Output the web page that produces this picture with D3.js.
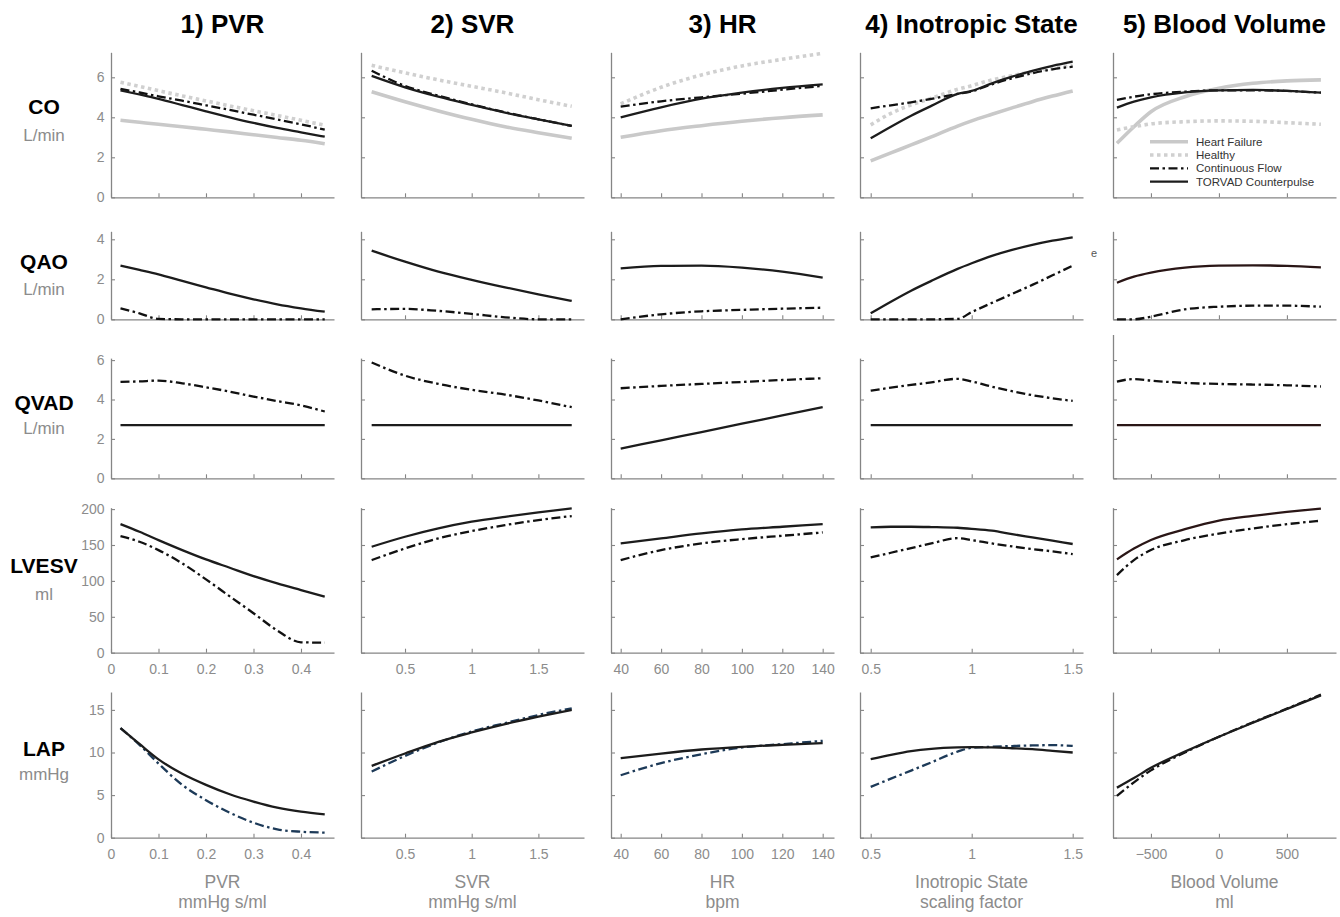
<!DOCTYPE html>
<html>
<head>
<meta charset="utf-8">
<script src="https://cdn.jsdelivr.net/npm/d3@7"></script>
<style>
  body { margin: 0; background: #fff; }
  svg { display: block; }
</style>
</head>
<body>
<svg id="chart" width="1340" height="917"></svg>
<script>
// ---- parameter sweeps, one per column ----
const xPVR = [0.02, 0.06, 0.1, 0.15, 0.2, 0.25, 0.3, 0.35, 0.4, 0.45];
const xSVR = [0.25, 0.5, 0.75, 1, 1.25, 1.5, 1.75];
const xHR  = [40, 60, 80, 100, 120, 140];
const xINO = [0.5, 0.6, 0.7, 0.8, 0.93, 1.0, 1.1, 1.2, 1.3, 1.4, 1.5];
const xBV  = [-750, -625, -500, -250, 0, 250, 500, 750];

const colTitles = ["1) PVR", "2) SVR", "3) HR", "4) Inotropic State", "5) Blood Volume"];
const colVar    = ["PVR", "SVR", "HR", "Inotropic State", "Blood Volume"];
const colUnit   = ["mmHg s/ml", "mmHg s/ml", "bpm", "scaling factor", "ml"];
const xTicks = [[0, 0.1, 0.2, 0.3, 0.4], [0.5, 1, 1.5], [40, 60, 80, 100, 120, 140], [0.5, 1, 1.5], [-500, 0, 500]];

const rowNames = ["CO", "QAO", "QVAD", "LVESV", "LAP"];
const rowUnits = ["L/min", "L/min", "L/min", "ml", "mmHg"];
const yTicks = [[0, 2, 4, 6], [0, 2, 4], [0, 2, 4, 6], [0, 50, 100, 150, 200], [0, 5, 10, 15]];

const seriesNames = ["Heart Failure", "Healthy", "Continuous Flow", "TORVAD Counterpulse"];

// ---- CO (L/min) ----
const coHF = [
  [3.85, 3.75, 3.65, 3.53, 3.4, 3.27, 3.13, 2.99, 2.85, 2.68],
  [5.28, 4.78, 4.32, 3.9, 3.53, 3.23, 2.95],
  [3.0, 3.33, 3.58, 3.8, 3.98, 4.12],
  [1.82, 2.22, 2.62, 3.02, 3.56, 3.82, 4.15, 4.47, 4.78, 5.06, 5.32],
  [2.7, 3.53, 4.28, 5.03, 5.45, 5.7, 5.82, 5.87]
];
const coHealthy = [
  [5.75, 5.54, 5.33, 5.07, 4.82, 4.57, 4.33, 4.09, 3.85, 3.6],
  [6.6, 6.22, 5.87, 5.55, 5.23, 4.88, 4.55],
  [4.67, 5.5, 6.12, 6.57, 6.9, 7.2],
  [3.62, 4.2, 4.62, 4.95, 5.4, 5.58, 5.87, 6.08, 6.28, 6.45, 6.6],
  [3.37, 3.53, 3.67, 3.78, 3.82, 3.8, 3.73, 3.65]
];
const coCF = [
  [5.42, 5.24, 5.05, 4.83, 4.6, 4.37, 4.13, 3.89, 3.65, 3.38],
  [6.33, 5.57, 5.08, 4.65, 4.25, 3.9, 3.57],
  [4.53, 4.8, 5.0, 5.18, 5.38, 5.57],
  [4.45, 4.6, 4.75, 4.92, 5.17, 5.3, 5.65, 5.95, 6.2, 6.4, 6.53],
  [4.87, 5.03, 5.15, 5.28, 5.35, 5.35, 5.32, 5.23]
];
const coTV = [
  [5.35, 5.14, 4.92, 4.61, 4.3, 4.0, 3.72, 3.47, 3.25, 3.03],
  [6.07, 5.5, 5.03, 4.62, 4.23, 3.9, 3.57],
  [4.0, 4.5, 4.93, 5.23, 5.47, 5.65],
  [2.95, 3.53, 4.08, 4.57, 5.17, 5.32, 5.7, 6.03, 6.32, 6.57, 6.78],
  [4.48, 4.78, 5.0, 5.25, 5.35, 5.37, 5.32, 5.23]
];

// ---- QAO (L/min) ----
const qaoCF = [
  [0.55, 0.3, 0.02, 0, 0, 0, 0, 0, 0, 0],
  [0.5, 0.52, 0.42, 0.27, 0.1, 0, 0],
  [0, 0.25, 0.4, 0.47, 0.53, 0.58],
  [0, 0, 0, 0, 0.02, 0.36, 0.82, 1.27, 1.72, 2.2, 2.68],
  [0, 0, 0.13, 0.5, 0.63, 0.68, 0.68, 0.63]
];
const qaoTV = [
  [2.68, 2.47, 2.25, 1.92, 1.6, 1.28, 1.0, 0.75, 0.55, 0.38],
  [3.43, 2.88, 2.38, 1.97, 1.6, 1.25, 0.92],
  [2.55, 2.67, 2.68, 2.58, 2.38, 2.08],
  [0.3, 0.88, 1.43, 1.92, 2.52, 2.8, 3.17, 3.47, 3.72, 3.93, 4.1],
  [1.83, 2.13, 2.33, 2.58, 2.68, 2.7, 2.67, 2.6]
];

// ---- QVAD (L/min) ----
const qvadCF = [
  [4.89, 4.92, 4.96, 4.82, 4.62, 4.4, 4.15, 3.92, 3.7, 3.39],
  [5.88, 5.21, 4.79, 4.49, 4.25, 3.95, 3.61],
  [4.57, 4.69, 4.79, 4.89, 4.99, 5.08],
  [4.45, 4.6, 4.74, 4.87, 5.05, 4.92, 4.65, 4.42, 4.22, 4.06, 3.93],
  [4.91, 5.04, 4.96, 4.84, 4.79, 4.76, 4.72, 4.66]
];
const qvadTV = [
  [2.7, 2.7, 2.7, 2.7, 2.7, 2.7, 2.7, 2.7, 2.7, 2.7],
  [2.7, 2.7, 2.7, 2.7, 2.7, 2.7, 2.7],
  [1.51, 1.93, 2.35, 2.77, 3.19, 3.61],
  [2.7, 2.7, 2.7, 2.7, 2.7, 2.7, 2.7, 2.7, 2.7, 2.7, 2.7],
  [2.7, 2.7, 2.7, 2.7, 2.7, 2.7, 2.7, 2.7]
];

// ---- LVESV (ml) ----
const lvesvCF = [
  [162.4, 154.5, 142.9, 124.4, 102.1, 78.5, 55, 31, 14.5, 14],
  [129, 145.2, 159.2, 169.4, 177.7, 184.7, 190.3],
  [129, 142.9, 152.2, 158.2, 162.9, 167.5],
  [132.7, 139.2, 145.7, 152.2, 159.5, 156.8, 152.2, 148, 144.3, 141.1, 137.4],
  [108, 129, 143, 156.8, 166, 173, 179, 183.8]
];
const lvesvTV = [
  [179, 168.4, 156.8, 142.9, 129.9, 118.3, 106.7, 96.5, 87.2, 78],
  [147.6, 161.5, 173.1, 182.4, 189.3, 195.4, 200.9],
  [152.2, 159.2, 166.1, 171.7, 175.4, 179.1],
  [174.5, 175.4, 175.4, 175, 174, 172.6, 170, 165.2, 160.6, 156, 151.4],
  [130, 145, 157, 172, 184, 190.5, 196, 200.8]
];

// ---- LAP (mmHg) ----
const lapCF = [
  [12.86, 10.9, 8.7, 6.2, 4.4, 2.94, 1.76, 0.98, 0.7, 0.6],
  [7.76, 9.6, 11.18, 12.47, 13.45, 14.4, 15.18],
  [7.33, 8.75, 9.8, 10.59, 10.98, 11.37],
  [5.96, 6.93, 7.88, 8.84, 10.1, 10.55, 10.67, 10.76, 10.83, 10.86, 10.78],
  [4.9, 6.5, 7.9, 10.0, 11.85, 13.55, 15.15, 16.8]
];
const lapTV = [
  [12.86, 11.0, 9.2, 7.5, 6.2, 5.1, 4.24, 3.53, 3.06, 2.75],
  [8.43, 9.88, 11.25, 12.35, 13.33, 14.2, 15.0],
  [9.33, 9.88, 10.35, 10.67, 10.9, 11.1],
  [9.22, 9.73, 10.16, 10.43, 10.6, 10.63, 10.59, 10.5, 10.39, 10.2, 10.0],
  [5.87, 7.0, 8.2, 10.1, 11.85, 13.5, 15.1, 16.7]
];

// ---- layout ----
const font = "'Liberation Sans', Arial, Helvetica, sans-serif";
const gray = "#8c8c8c";
const axisGray = "#858585";
const xs = [xPVR, xSVR, xHR, xINO, xBV];
const panelLeft = [111, 361, 611, 860, 1113];
const panelW = 223;
const xLimits = [[0, 0.4695], [0.17, 1.842], [35.2, 145.6], [0.447, 1.551], [-779, 861]];
// bottom pixel, pixels per unit, y max, label baselines
const rowBox = [
  { bottom: 197.3, ppu: 20,    ymax: 7.25, lab: 114, unit: 141 },
  { bottom: 319.3, ppu: 20,    ymax: 4.4,  lab: 269, unit: 295 },
  { bottom: 478.3, ppu: 19.7,  ymax: 6.1,  lab: 410, unit: 434 },
  { bottom: 652.7, ppu: 0.718, ymax: 202,  lab: 573, unit: 600 },
  { bottom: 837.7, ppu: 8.52,  ymax: 17.1, lab: 756, unit: 780 }
];

const styles = {
  hf:      { stroke: "#c9c9c9", width: 3.6, dash: null },
  healthy: { stroke: "#d0d0d0", width: 3.6, dash: "3.5,3.5" },
  cf:      { stroke: "#111", width: 2.3, dash: "9,3.5,2.5,3.5" },
  tv:      { stroke: "#1c1c1c", width: 2.3, dash: null }
};

const rowSeries = [
  [["hf", coHF], ["healthy", coHealthy], ["cf", coCF], ["tv", coTV]],
  [["cf", qaoCF], ["tv", qaoTV]],
  [["cf", qvadCF], ["tv", qvadTV]],
  [["cf", lvesvCF], ["tv", lvesvTV]],
  [["cf", lapCF], ["tv", lapTV]]
];

const svg = d3.select("#chart").style("font-family", font);
const fmt = d3.format("");

// column titles
colTitles.forEach((t, c) => {
  svg.append("text")
    .attr("x", panelLeft[c] + panelW / 2).attr("y", 33)
    .attr("text-anchor", "middle")
    .style("font-size", "26px").style("font-weight", "bold")
    .text(t);
});

// row labels
rowNames.forEach((n, r) => {
  svg.append("text")
    .attr("x", 44).attr("y", rowBox[r].lab)
    .attr("text-anchor", "middle")
    .style("font-size", "21px").style("font-weight", "bold")
    .text(n);
  svg.append("text")
    .attr("x", 44).attr("y", rowBox[r].unit)
    .attr("text-anchor", "middle")
    .style("font-size", "17px").attr("fill", gray)
    .text(rowUnits[r]);
});

// x axis variable names
colVar.forEach((v, c) => {
  const cx = panelLeft[c] + panelW / 2;
  svg.append("text").attr("x", cx).attr("y", 888).attr("text-anchor", "middle")
    .style("font-size", "17.5px").attr("fill", gray).text(v);
  svg.append("text").attr("x", cx).attr("y", 908).attr("text-anchor", "middle")
    .style("font-size", "17.5px").attr("fill", gray).text(colUnit[c]);
});

function styleAxis(g) {
  g.select(".domain").attr("stroke", axisGray).attr("stroke-width", 1.3);
  g.selectAll(".tick line").attr("stroke", axisGray).attr("stroke-width", 1.1);
  g.selectAll(".tick text").attr("fill", gray).style("font-size", "14px").style("font-family", font);
}

rowBox.forEach((rb, r) => {
  xs.forEach((xv, c) => {
    const x = d3.scaleLinear().domain(xLimits[c]).range([panelLeft[c], panelLeft[c] + panelW]);
    // blood volume QVAD panel has a taller y axis
    const ytop = (r === 2 && c === 4) ? 7.3 : rb.ymax;
    const y = d3.scaleLinear().domain([0, ytop]).range([rb.bottom, rb.bottom - ytop * rb.ppu]);
    const g = svg.append("g");

    const showX = (r === 4) || (r === 3 && c < 4);
    g.append("g")
      .attr("transform", `translate(0,${rb.bottom})`)
      .call(d3.axisBottom(x).tickValues(xTicks[c]).tickSizeInner(-4).tickSizeOuter(0)
        .tickPadding(11).tickFormat(showX ? fmt : () => ""))
      .call(styleAxis);

    g.append("g")
      .attr("transform", `translate(${panelLeft[c]},0)`)
      .call(d3.axisLeft(y).tickValues(yTicks[r]).tickSizeInner(-4).tickSizeOuter(0)
        .tickPadding(6.5).tickFormat(c === 0 ? fmt : () => ""))
      .call(styleAxis);

    const line = d3.line()
      .x((d, i) => x(xv[i]))
      .y(d => y(d))
      .curve(d3.curveMonotoneX);

    rowSeries[r].forEach(([key, data]) => {
      const st = styles[key];
      let stroke = st.stroke;
      if (r === 4 && key === "cf" && c < 4) stroke = "#1d3a58";
      if (c === 4 && key === "tv" && r >= 1 && r <= 3) stroke = "#2a1616";
      g.append("path")
        .datum(data[c])
        .attr("d", line)
        .attr("fill", "none")
        .attr("stroke", stroke)
        .attr("stroke-width", st.width)
        .attr("stroke-dasharray", st.dash)
        .attr("stroke-linejoin", "round");
    });
  });
});

// legend (inside blood volume CO panel)
const legKeys = ["hf", "healthy", "cf", "tv"];
const legY = [141.7, 155, 168.3, 181.7];
legKeys.forEach((k, i) => {
  const st = styles[k];
  svg.append("line")
    .attr("x1", 1150).attr("x2", 1188).attr("y1", legY[i]).attr("y2", legY[i])
    .attr("stroke", st.stroke).attr("stroke-width", st.width)
    .attr("stroke-dasharray", st.dash);
  svg.append("text")
    .attr("x", 1196).attr("y", legY[i]).attr("dy", "0.35em")
    .style("font-size", "11.5px").attr("fill", "#333")
    .text(seriesNames[i]);
});

// stray glyph present in the source figure
svg.append("text").attr("x", 1091).attr("y", 257)
  .style("font-size", "11px").attr("fill", "#555").text("e");
</script>
</body>
</html>
